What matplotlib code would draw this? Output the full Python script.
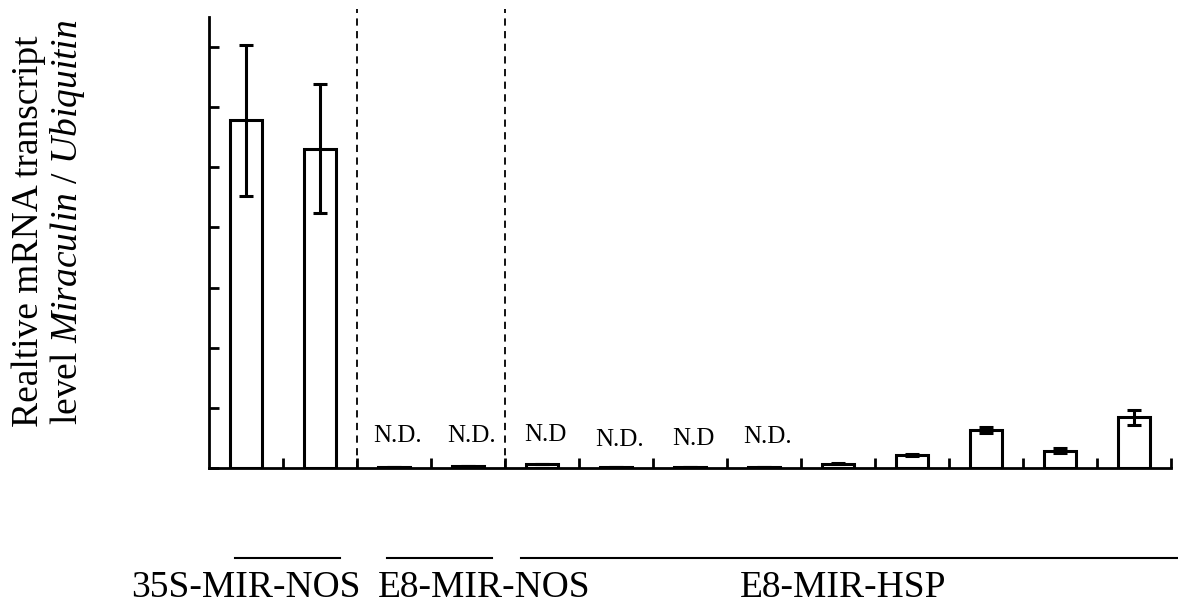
import numpy as np
import matplotlib
matplotlib.use('Agg')
import matplotlib.pyplot as plt

plt.rcParams['font.family'] = ['Liberation Serif', 'DejaVu Serif']
plt.rcParams['mathtext.fontset'] = 'custom'
plt.rcParams['mathtext.rm'] = 'Liberation Serif'
plt.rcParams['mathtext.it'] = 'Liberation Serif:italic'

# Datos del gráfico
valores = [5.78, 5.31, 0.01, 0.03, 0.06, 0.01, 0.02, 0.01, 0.07, 0.22, 0.64, 0.29, 0.84]
errores = [1.26, 1.07, 0, 0, 0, 0, 0, 0, 0.01, 0.02, 0.05, 0.04, 0.13]
etiquetas_nd = ['', '', 'N.D.', 'N.D.', 'N.D', 'N.D.', 'N.D', 'N.D.', '', '', '', '', '']
altura_nd = [0, 0, 0.53, 0.53, 0.55, 0.47, 0.48, 0.51, 0, 0, 0, 0, 0]
grupos = ['35S-MIR-NOS', 'E8-MIR-NOS', 'E8-MIR-HSP']
grupo_inicio = [0.35, 2.41, 4.22]
grupo_fin = [1.77, 3.82, 13.1]
grupo_texto_x = [0.5, 3.72, 8.57]
separadores = [2, 4]

x = np.arange(len(valores)) + 0.5

fig = plt.figure(figsize=(11.78, 6.10), dpi=100)
ax = fig.add_axes([209 / 1178, 142 / 610, 962 / 1178, 451 / 610])

ax.bar(x, valores, width=0.42, color='white', edgecolor='black', linewidth=2.2,
       yerr=errores, capsize=5, error_kw=dict(elinewidth=2.2, capthick=2.2, ecolor='black'))

for xi, txt, h in zip(x, etiquetas_nd, altura_nd):
    if txt:
        ax.text(xi + 0.05, h, txt, ha='center', va='center', fontsize=18)

for s in separadores:
    ax.plot([s, s], [0, 7.64], color='black', linestyle=(0, (4, 3)), linewidth=1.3, clip_on=False)

# Líneas y etiquetas de grupos bajo el eje
for g, a, b, tx in zip(grupos, grupo_inicio, grupo_fin, grupo_texto_x):
    ax.plot([a, b], [-1.495, -1.495], color='black', linewidth=1.5, clip_on=False)
    ax.text(tx, -1.99, g, ha='center', va='center', fontsize=27)

ax.set_xlim(0, 13)
ax.set_ylim(0, 7.5)
ax.set_xticks(np.arange(1, 14))
ax.set_yticks(np.arange(0, 8))
ax.set_xticklabels([])
ax.set_yticklabels([])
ax.tick_params(direction='in', length=7, width=2)
ax.spines['top'].set_visible(False)
ax.spines['right'].set_visible(False)
ax.spines['left'].set_linewidth(2)
ax.spines['bottom'].set_linewidth(2)

fig.text(0.024, 0.621, 'Realtive mRNA transcript', rotation=90, ha='center', va='center', fontsize=27)
fig.text(0.057, 0.636, 'level $\\it{Miraculin}$ / $\\it{Ubiquitin}$', rotation=90, ha='center', va='center', fontsize=27)

plt.savefig('out.png', dpi=100)
